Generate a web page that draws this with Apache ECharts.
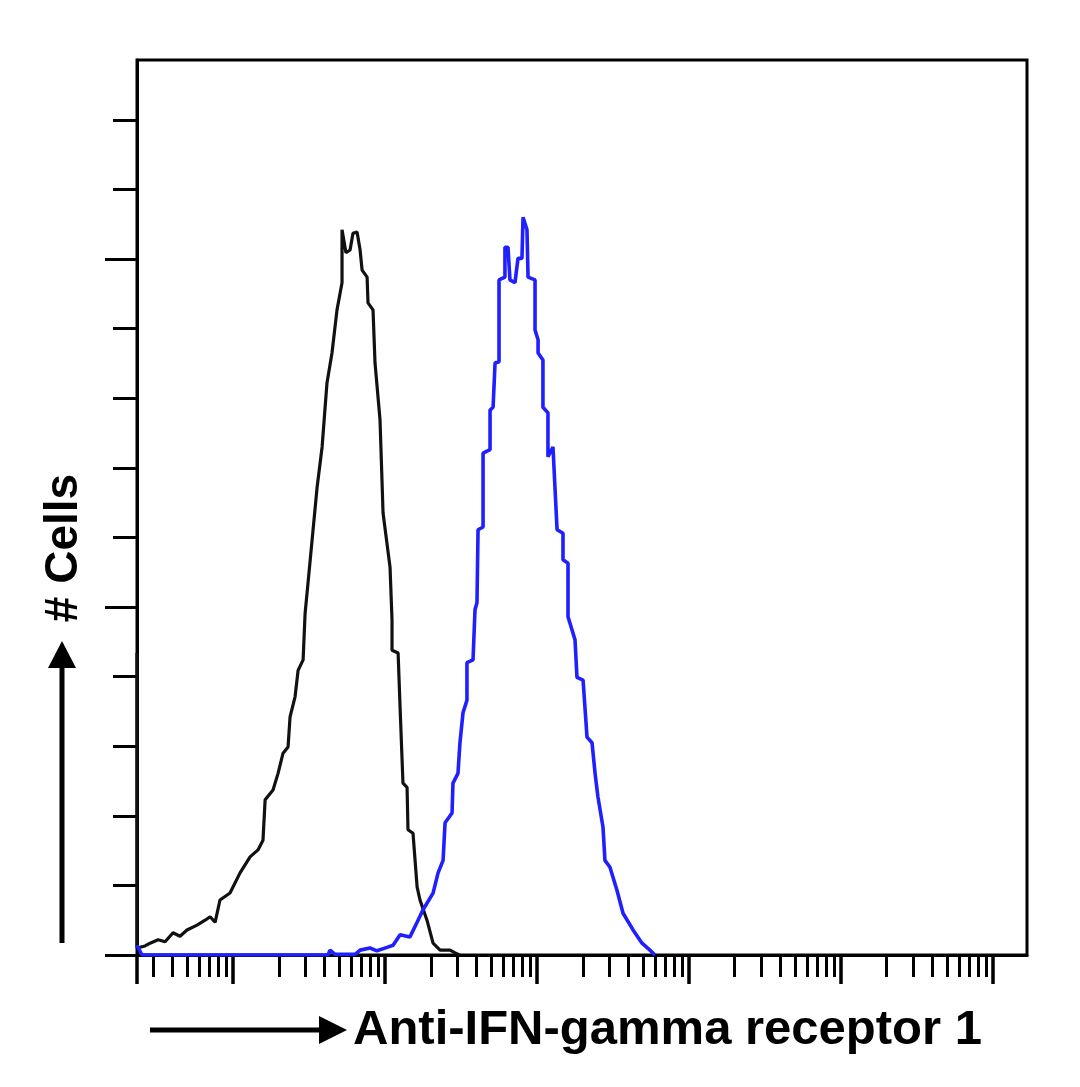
<!DOCTYPE html>
<html><head><meta charset="utf-8">
<script src="https://cdn.jsdelivr.net/npm/echarts@6/dist/echarts.min.js"></script>
<style>html,body{margin:0;padding:0;background:#fff}#c{width:1080px;height:1087px}</style>
</head><body><div id="c"></div>
<script>
// x values are log10 fluorescence intensity; y values are cell counts
const xMin = 0.368, xMax = 6.224;
const yMin = 0, yMax = 128.6;

const isotypeX = [0.368,0.368,0.421,0.454,0.507,0.553,0.605,0.651,0.697,0.763,0.816,0.849,0.882,0.914,0.980,1.046,1.112,1.164,1.197,1.211,1.263,1.296,1.329,1.362,1.375,1.408,1.428,1.461,1.474,1.493,1.520,1.553,1.586,1.618,1.651,1.684,1.717,1.717,1.743,1.770,1.789,1.816,1.836,1.849,1.882,1.888,1.921,1.934,1.967,1.987,2.033,2.046,2.046,2.086,2.099,2.118,2.145,2.151,2.184,2.211,2.230,2.276,2.316,2.362,2.428,2.461,2.490];
const isotypeY = [43.4,1.0,1.3,1.7,2.2,1.9,3.2,2.7,3.6,4.3,5.0,5.5,4.7,7.9,8.9,11.8,14.1,15.1,16.5,22.3,23.7,26.1,29.0,29.9,34.2,37.1,40.9,42.4,49.1,53.4,59.6,67.2,73.0,82.2,86.5,92.7,96.6,104.2,100.9,101.3,103.7,103.9,101.3,98.4,97.4,93.7,92.7,85.1,76.9,63.5,55.7,48.1,43.8,43.4,35.6,24.7,24.1,18.0,17.5,9.8,7.9,5.0,1.7,0.7,0.7,0.3,0];

const antibodyX = [0.368,0.401,1.625,1.638,1.671,1.803,1.836,1.901,1.947,2.013,2.053,2.099,2.164,2.211,2.250,2.316,2.349,2.382,2.395,2.441,2.447,2.480,2.493,2.513,2.539,2.539,2.579,2.592,2.605,2.612,2.645,2.645,2.691,2.691,2.711,2.724,2.750,2.750,2.789,2.789,2.809,2.822,2.855,2.875,2.901,2.908,2.934,2.941,2.987,2.987,3.007,3.007,3.039,3.039,3.072,3.072,3.105,3.132,3.171,3.171,3.204,3.204,3.250,3.263,3.303,3.329,3.362,3.382,3.401,3.434,3.447,3.480,3.526,3.566,3.632,3.691,3.743,3.776];
const antibodyY = [1.4,0,0,0.7,0.1,0.1,0.7,1.0,0.6,1.1,1.4,2.9,2.6,4.7,6.5,8.9,11.8,13.6,19.0,20.4,24.7,26.1,30.5,34.8,36.6,42.0,42.4,49.6,50.6,61.1,61.5,72.1,72.6,78.3,78.7,85.1,85.2,97.0,97.4,101.7,101.7,97.0,96.6,100.1,100.1,106.0,104.2,97.4,97.0,89.8,88.4,86.5,85.5,78.7,77.9,71.6,73.0,61.1,60.6,56.8,56.3,48.6,45.3,39.9,39.5,31.3,30.5,26.1,22.7,18.4,13.6,12.6,9.3,6.0,3.6,1.7,0.7,0];

// tick definitions
const xDecades = [0,1,2,3,4,5,6];
const xMinorMultipliers = [2,3,4,5,6,7,8,9];
const yMinorTicks = [10,20,30,40,60,70,80,90,110,120];
const yMajorTicks = [0,50,100];

const xMajorTicks = [xMin].concat(xDecades.filter(d => d > xMin && d <= xMax));
const xMinorTicks = [];
xDecades.forEach(d => xMinorMultipliers.forEach(m => {
  const v = d + Math.log10(m);
  if (v > xMin && v < xMax) xMinorTicks.push(v);
}));

const zip = (a, b) => a.map((v, i) => [v, b[i]]);

const chart = echarts.init(document.getElementById('c'), null, {renderer: 'canvas'});
const black = '#000';
const hiddenLabel = {show: false};
chart.setOption({
  animation: false,
  backgroundColor: '#fff',
  grid: {left: 137, right: 53, top: 60, bottom: 132, show: true, borderColor: black, borderWidth: 3, backgroundColor: 'transparent'},
  xAxis: [
    {type: 'value', min: xMin, max: xMax, position: 'bottom',
     axisLine: {show: true, onZero: false, lineStyle: {color: black, width: 3}},
     axisTick: {show: true, customValues: xMinorTicks, length: 22, lineStyle: {color: black, width: 3}},
     axisLabel: hiddenLabel, splitLine: {show: false}},
    {type: 'value', min: xMin, max: xMax, position: 'bottom',
     axisLine: {show: false},
     axisTick: {show: true, customValues: xMajorTicks, length: 29, lineStyle: {color: black, width: 3.5}},
     axisLabel: hiddenLabel, splitLine: {show: false}}
  ],
  yAxis: [
    {type: 'value', min: yMin, max: yMax, position: 'left',
     axisLine: {show: true, onZero: false, lineStyle: {color: black, width: 3}},
     axisTick: {show: true, customValues: yMinorTicks, length: 24, lineStyle: {color: black, width: 3}},
     axisLabel: hiddenLabel, splitLine: {show: false}},
    {type: 'value', min: yMin, max: yMax, position: 'left',
     axisLine: {show: false},
     axisTick: {show: true, customValues: yMajorTicks, length: 32, lineStyle: {color: black, width: 3}},
     axisLabel: hiddenLabel, splitLine: {show: false}}
  ],
  series: [
    {type: 'line', name: 'Isotype', data: zip(isotypeX, isotypeY), showSymbol: false, symbol: 'none',
     lineStyle: {color: '#111', width: 3.2}, xAxisIndex: 0, yAxisIndex: 0, z: 3},
    {type: 'line', name: 'Anti-IFN-gamma receptor 1', data: zip(antibodyX, antibodyY), showSymbol: false, symbol: 'none',
     lineStyle: {color: '#1f1fff', width: 3.6}, xAxisIndex: 0, yAxisIndex: 0, z: 4}
  ],
  graphic: [
    {type: 'line', shape: {x1: 62, y1: 943, x2: 62, y2: 664}, style: {stroke: black, lineWidth: 5}},
    {type: 'polygon', shape: {points: [[62, 641], [48, 668], [76, 668]]}, style: {fill: black}},
    {type: 'text', x: 64, y: 548, rotation: Math.PI / 2,
     style: {text: '# Cells', font: 'bold 46px "Liberation Sans", Arial, sans-serif', fill: black, align: 'center', verticalAlign: 'middle'}},
    {type: 'line', shape: {x1: 150, y1: 1030, x2: 322, y2: 1030}, style: {stroke: black, lineWidth: 5}},
    {type: 'polygon', shape: {points: [[347, 1030], [319, 1016], [319, 1044]]}, style: {fill: black}},
    {type: 'text', x: 353, y: 1030,
     style: {text: 'Anti-IFN-gamma receptor 1', font: 'bold 49px "Liberation Sans", Arial, sans-serif', fill: black, align: 'left', verticalAlign: 'middle'}}
  ]
});
</script>
</body></html>
